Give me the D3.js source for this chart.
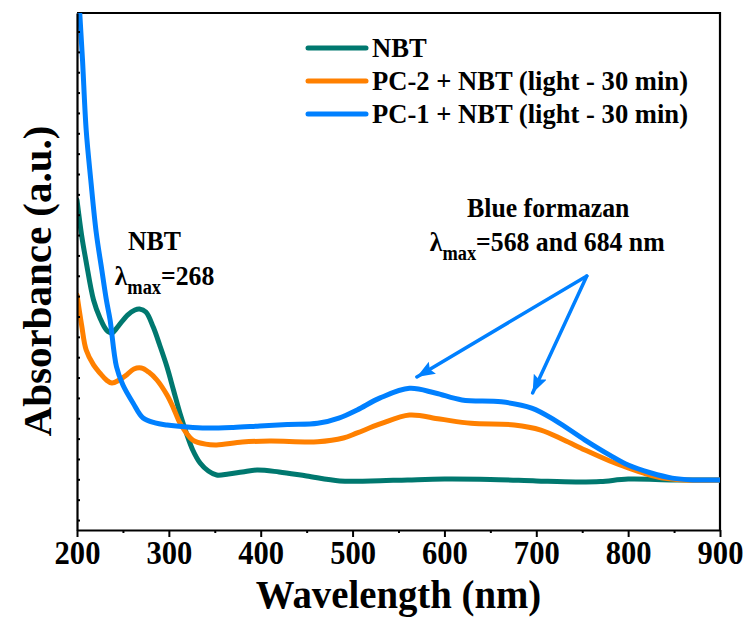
<!DOCTYPE html>
<html><head><meta charset="utf-8">
<script src="https://cdn.jsdelivr.net/npm/d3@7"></script>
</head><body style="margin:0;background:#fff">
<svg id="chart" width="745" height="621" style="display:block"></svg>
<script>
// ---------- DATA ----------
const nbtWavelength = [200,205,210,218,225,232,238,245,255,263,268,275,283,290,298,305,312,319,326,334,343,352,365,380,396,420,450,486,520,560,600,650,700,743,770,800,850,900];
const nbtAbs        = [1.572,1.400,1.268,1.081,0.993,0.934,0.919,0.953,1.007,1.032,1.037,1.022,0.948,0.860,0.752,0.639,0.526,0.428,0.344,0.280,0.241,0.221,0.226,0.236,0.246,0.236,0.216,0.192,0.192,0.197,0.201,0.199,0.192,0.187,0.189,0.201,0.197,0.197];

const pc2Wavelength = [200,205,210,218,225,232,238,246,254,262,270,278,287,298,305,312,319,326,340,352,380,410,462,490,505,530,562,595,629,676,705,730,753,780,800,820,838,860,900];
const pc2Abs        = [1.106,0.958,0.835,0.762,0.722,0.688,0.673,0.688,0.713,0.742,0.747,0.727,0.688,0.614,0.550,0.477,0.428,0.393,0.373,0.369,0.383,0.388,0.385,0.403,0.428,0.472,0.516,0.496,0.475,0.467,0.442,0.393,0.344,0.290,0.256,0.226,0.206,0.197,0.197];

const pc1Wavelength = [200,203,206,210,215,221,227,232,236,243,250,261,272,285,298,320,341,370,399,430,462,485,505,530,562,590,619,662,695,720,753,780,800,825,848,870,900];
const pc1Abs        = [2.752,2.491,2.260,1.916,1.671,1.410,1.229,1.081,0.983,0.753,0.663,0.575,0.501,0.477,0.467,0.457,0.452,0.455,0.462,0.469,0.475,0.501,0.541,0.600,0.647,0.624,0.590,0.581,0.550,0.491,0.393,0.319,0.270,0.231,0.206,0.197,0.197];

const seriesNames  = ["NBT", "PC-2 + NBT (light - 30 min)", "PC-1 + NBT (light - 30 min)"];
const seriesColors = ["#00786f", "#ff8000", "#0080ff"];

const xTickValues  = [200, 300, 400, 500, 600, 700, 800, 900];
const xTickLabels  = ["200", "300", "400", "500", "600", "700", "800", "900"];
const xMinorTicks  = [250, 350, 450, 550, 650, 750, 850];

// annotation anchors, in data units (wavelength, absorbance)
const arrowFrom = [755, 1.199];
const arrowTo   = [[570, 0.703], [696, 0.624]];
const nbtLabelAt      = [255.5, 1.327];
const nbtLambdaAt     = [241, 1.155];
const formazanTitleAt = [713, 1.489];
const formazanLambdaAt= [584, 1.322];

// ---------- LAYOUT ----------
const FONT = "'Liberation Serif', 'Times New Roman', serif";
function serif(sel, size) {
  return sel.style("font-family", FONT).style("font-weight", "bold")
            .style("font-size", size + "px").attr("fill", "#000");
}
const svg = d3.select("#chart");
const L = 77, R = 720, T = 13, B = 530;
const x = d3.scaleLinear().domain([200, 900]).range([L, R]);
const y = d3.scaleLinear().domain([-0.049, 2.491]).range([B, T]);

const defs = svg.append("defs");
defs.append("clipPath").attr("id", "plotclip")
  .append("rect").attr("x", L).attr("y", T).attr("width", R - L).attr("height", B - T);

// frame (top + right)
svg.append("path")
  .attr("d", `M${L},${T}H${R}V${B}`)
  .attr("fill", "none").attr("stroke", "#000").attr("stroke-width", 2.2);

// curves
const line = d3.line().x(d => x(d[0])).y(d => y(d[1])).curve(d3.curveCatmullRom.alpha(0.5));
const series = [
  d3.zip(nbtWavelength, nbtAbs),
  d3.zip(pc2Wavelength, pc2Abs),
  d3.zip(pc1Wavelength, pc1Abs)
];
const g = svg.append("g").attr("clip-path", "url(#plotclip)");
series.forEach((s, i) => {
  g.append("path").datum(s)
    .attr("d", line)
    .attr("fill", "none")
    .attr("stroke", seriesColors[i])
    .attr("stroke-width", 5)
    .attr("stroke-linejoin", "round")
    .attr("stroke-linecap", "round");
});

// x axis
const xAxisMinor = d3.axisBottom(x).tickValues(xMinorTicks).tickSize(3).tickSizeOuter(0).tickFormat("");
svg.append("g").attr("transform", `translate(0,${B})`).call(xAxisMinor)
  .call(a => a.select(".domain").remove())
  .call(a => a.selectAll("line").attr("stroke-width", 2));
const xAxis = d3.axisBottom(x).tickValues(xTickValues).tickSize(7).tickSizeOuter(0)
  .tickFormat((d, i) => xTickLabels[i]);
const xa = svg.append("g").attr("transform", `translate(0,${B})`).call(xAxis);
xa.select(".domain").attr("stroke-width", 2.2);
xa.selectAll("line").attr("stroke-width", 2);
serif(xa.selectAll("text"), 34)
  .attr("y", 0).attr("dy", 0)
  .attr("transform", "translate(0,34) scale(0.9,1)");

// y axis (inward minor ticks, no labels)
const yAxis = d3.axisLeft(y).tickValues(d3.range(0, 2.45, 0.1)).tickSize(-3).tickSizeOuter(0).tickFormat("");
const ya = svg.append("g").attr("transform", `translate(${L},0)`).call(yAxis);
ya.select(".domain").attr("stroke-width", 2.2);
ya.selectAll("line").attr("stroke-width", 2);

// axis titles
serif(svg.append("text"), 40)
  .attr("transform", `translate(${(L + R) / 2},608) scale(0.97,1)`)
  .attr("text-anchor", "middle")
  .text("Wavelength (nm)");
serif(svg.append("text"), 41)
  .attr("transform", `translate(51,${281}) rotate(-90)`)
  .attr("text-anchor", "middle")
  .text("Absorbance (a.u.)");

// legend
const legend = svg.append("g");
const legendY = [48, 81, 114];
seriesNames.forEach((name, i) => {
  legend.append("line")
    .attr("x1", 308).attr("x2", 366)
    .attr("y1", legendY[i]).attr("y2", legendY[i])
    .attr("stroke", seriesColors[i]).attr("stroke-width", 5).attr("stroke-linecap", "round");
  serif(legend.append("text"), 28)
    .attr("transform", `translate(372,${legendY[i] + 9}) scale(0.95,1)`)
    .text(name);
});

// annotations
function lambdaLabel(pos, rest) {
  const t = serif(svg.append("text"), 28)
    .attr("transform", `translate(${x(pos[0])},${y(pos[1])}) scale(0.92,1)`);
  t.append("tspan").text("λ");
  t.append("tspan").attr("dy", 9).style("font-size", "20px").text("max");
  t.append("tspan").attr("dy", -9).text(rest);
  return t;
}
serif(svg.append("text"), 28)
  .attr("transform", `translate(${x(nbtLabelAt[0])},${y(nbtLabelAt[1])}) scale(0.92,1)`)
  .text("NBT");
lambdaLabel(nbtLambdaAt, "=268");

serif(svg.append("text"), 28)
  .attr("transform", `translate(${x(formazanTitleAt[0])},${y(formazanTitleAt[1])}) scale(0.92,1)`)
  .attr("text-anchor", "middle")
  .text("Blue formazan");
lambdaLabel(formazanLambdaAt, "=568 and 684 nm");

// arrows
defs.append("marker")
  .attr("id", "arrowhead")
  .attr("markerUnits", "userSpaceOnUse")
  .attr("markerWidth", 20).attr("markerHeight", 16)
  .attr("refX", 18).attr("refY", 7)
  .attr("orient", "auto")
  .append("path").attr("d", "M0,0L18,7L0,14L3,7Z").attr("fill", "#0080ff");
arrowTo.forEach(t => {
  svg.append("line")
    .attr("x1", x(arrowFrom[0])).attr("y1", y(arrowFrom[1]))
    .attr("x2", x(t[0])).attr("y2", y(t[1]))
    .attr("stroke", "#0080ff").attr("stroke-width", 3.5)
    .attr("stroke-linecap", "round")
    .attr("marker-end", "url(#arrowhead)");
});
</script>
</body></html>
